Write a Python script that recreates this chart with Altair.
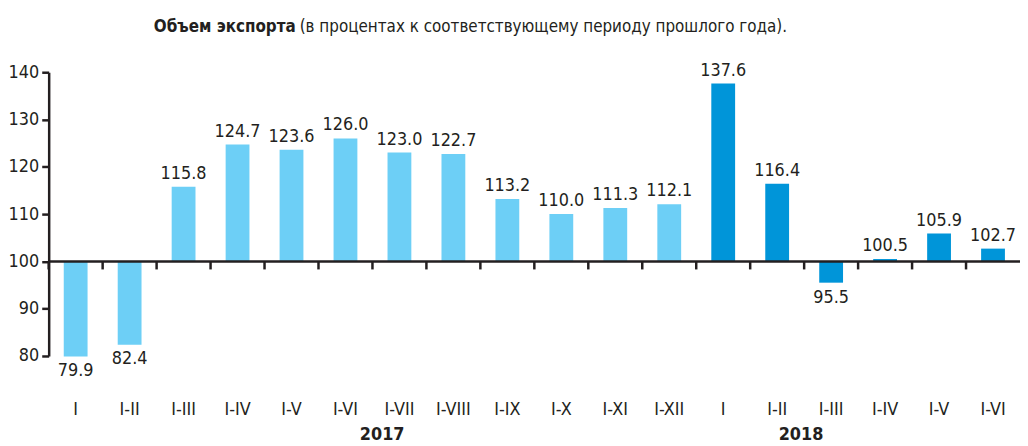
import altair as alt
import pandas as pd

periods = ["I", "I-II", "I-III", "I-IV", "I-V", "I-VI", "I-VII", "I-VIII", "I-IX",
           "I-X", "I-XI", "I-XII", "I", "I-II", "I-III", "I-IV", "I-V", "I-VI"]
years = ["2017"] * 12 + ["2018"] * 6
values = [79.9, 82.4, 115.8, 124.7, 123.6, 126.0, 123.0, 122.7, 113.2,
          110.0, 111.3, 112.1, 137.6, 116.4, 95.5, 100.5, 105.9, 102.7]
y_ticks = [80, 90, 100, 110, 120, 130, 140]

FONT = "DejaVu Sans Condensed, Liberation Sans Narrow, sans-serif"
TXT = "#231f20"
LIGHT = "#6dcff6"
DARK = "#0095d9"
FS = 18

keys = [f"{i:02d}|{p}" for i, p in enumerate(periods)]
df = pd.DataFrame({"key": keys, "period": periods, "year": years, "value": values})
order = keys

W, H = 979, 286

x_enc = alt.X("key:N", sort=order,
              scale=alt.Scale(paddingInner=0, paddingOuter=0),
              axis=alt.Axis(title=None, labelExpr="split(datum.label, '|')[1]",
                            domain=False, ticks=False, labelPadding=45,
                            labelFont=FONT, labelFontSize=FS, labelColor=TXT,
                            labelAngle=0))
y_scale = alt.Scale(domain=[80, 140], nice=False, zero=False)

base = alt.Chart(df)

bars = base.mark_bar(width=24).encode(
    x=x_enc,
    y=alt.Y("value:Q", scale=y_scale,
            axis=alt.Axis(title=None, values=y_ticks, grid=False,
                          domainColor=TXT, domainWidth=2.5,
                          tickColor=TXT, tickWidth=2.5, tickSize=7,
                          labelFont=FONT, labelFontSize=FS, labelColor=TXT,
                          labelPadding=3)),
    y2=alt.datum(100),
    color=alt.Color("year:N", scale=alt.Scale(domain=["2017", "2018"], range=[LIGHT, DARK]),
                    legend=None),
)

lbl_up = base.transform_filter("datum.value >= 100").mark_text(
    baseline="alphabetic", dy=-8, font=FONT, fontSize=FS, color=TXT
).encode(x=alt.X("key:N", sort=order), y=alt.Y("value:Q", scale=y_scale),
         text=alt.Text("value:Q", format=".1f"))

lbl_dn = base.transform_filter("datum.value < 100").mark_text(
    baseline="top", dy=6, font=FONT, fontSize=FS, color=TXT
).encode(x=alt.X("key:N", sort=order), y=alt.Y("value:Q", scale=y_scale),
         text=alt.Text("value:Q", format=".1f"))

baseline = alt.Chart(pd.DataFrame({"v": [100]})).mark_rule(color=TXT, strokeWidth=2.5).encode(
    y=alt.Y("v:Q", scale=y_scale), x=alt.value(0), x2=alt.value(W))

ticks = base.mark_rule(color=TXT, strokeWidth=2.5).encode(
    x=alt.X("key:N", sort=order, bandPosition=0),
    y=alt.datum(100), y2=alt.datum(98.3))

year_df = pd.DataFrame({"key": [keys[5], keys[13]], "label": ["2017", "2018"]})
year_2017 = alt.Chart(year_df.iloc[[0]]).mark_text(
    font=FONT, fontSize=FS, fontWeight="bold", color=TXT, baseline="alphabetic", dx=37
).encode(x=alt.X("key:N", sort=order), y=alt.value(H + 85), text="label:N")
year_2018 = alt.Chart(year_df.iloc[[1]]).mark_text(
    font=FONT, fontSize=FS, fontWeight="bold", color=TXT, baseline="alphabetic", dx=24
).encode(x=alt.X("key:N", sort=order), y=alt.value(H + 85), text="label:N")

title_df = pd.DataFrame({"a": ["Объем экспорта"], "b": ["(в процентах к соответствующему периоду прошлого года)."]})
title_bold = alt.Chart(title_df).mark_text(
    font=FONT, fontSize=17, fontWeight="bold", color=TXT, align="right", baseline="alphabetic"
).encode(x=alt.value(249), y=alt.value(-41), text="a:N")
title_norm = alt.Chart(title_df).mark_text(
    font=FONT, fontSize=17, color=TXT, align="left", baseline="alphabetic"
).encode(x=alt.value(253), y=alt.value(-41), text="b:N")

chart = alt.layer(bars, baseline, ticks, lbl_up, lbl_dn, year_2017, year_2018,
                  title_bold, title_norm).properties(
    width=W, height=H,
    autosize=alt.AutoSizeParams(type="none"),
    padding={"left": 41, "top": 63, "right": 0, "bottom": 89},
    background="white",
).configure_view(stroke=None)

chart.save("out.html", embed_options={"renderer": "svg", "actions": False})
